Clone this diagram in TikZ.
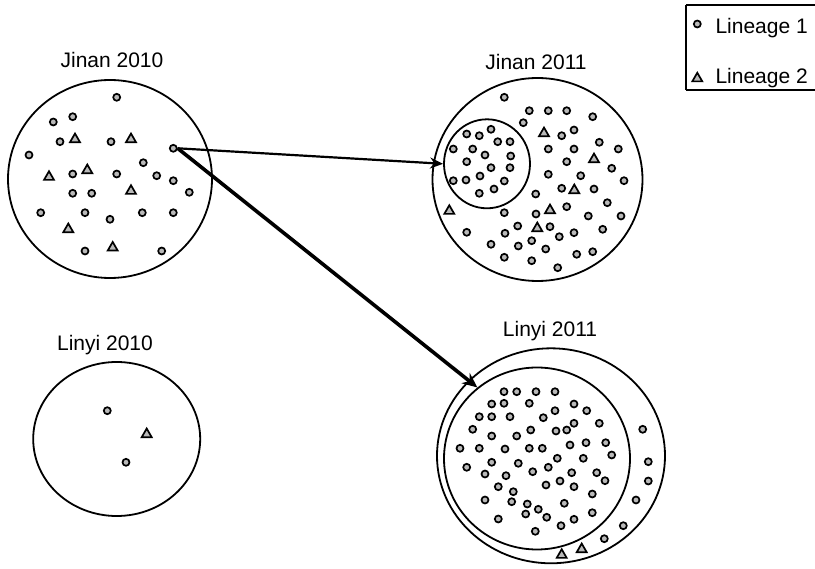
\documentclass[tikz,border=0pt]{standalone}
\usepackage{fontspec}
\setmainfont{Liberation Sans}
\usetikzlibrary{shapes.geometric,arrows.meta}
\tikzset{
  dot/.style={circle,draw=black,fill=gray!55,line width=1.7pt,inner sep=0pt,minimum size=7pt},
  tri/.style={regular polygon,regular polygon sides=3,draw=black,fill=gray!55,line width=1.7pt,inner sep=0pt,minimum size=11.5pt},
  pop/.style={ellipse,draw=black,line width=1.8pt,inner sep=0pt},
  ttl/.style={anchor=base,font=\fontsize{21}{25}\selectfont},
  leg/.style={anchor=base west,font=\fontsize{21}{25}\selectfont},
  arr/.style={-{Stealth[length=13pt,width=11pt]},line width=2.2pt},
  arrthick/.style={-{Stealth[length=15pt,width=13pt]},line width=3.6pt}
}
\begin{document}
\begin{tikzpicture}[x=1pt,y=-1pt]
\useasboundingbox (0,0) rectangle (815,569);
\fill[white] (0,0) rectangle (815,569);

% titles
\node[ttl] (t1) at (112,67.7) {Jinan 2010};
\node[ttl] (t2) at (536,70) {Jinan 2011};
\node[ttl] (t3) at (105,350.7) {Linyi 2010};
\node[ttl] (t4) at (550,337) {Linyi 2011};

% populations
\node[pop,minimum width=204pt,minimum height=198pt] (j10) at (110,179) {};
\node[pop,minimum width=210pt,minimum height=203pt] (j11) at (537.5,179.5) {};
\node[pop,minimum width=86pt,minimum height=89pt] (j11in) at (487,163.8) {};
\node[pop,minimum width=167pt,minimum height=154pt] (l10) at (116.7,439) {};
\node[pop,minimum width=228pt,minimum height=215pt] (l11) at (551,455.8) {};
\node[pop,minimum width=186pt,minimum height=182pt] (l11in) at (537,458.5) {};

% Jinan 2010
\node[dot] (src) at (173.3,148.3) {};
\foreach \x/\y [count=\i] in {116.7/97.3,72.7/116.7,53.3/122,60/141.7,111/141.7,29/155,143.3/162.7,72.7/174,116.7/174,156.7/175.7,173.3/180.7,72.7/193.3,91.7/193.3,189.3/192.3,40.7/212.7,85/212.7,110/219.3,142.3/212.7,173.3/212.7,85/251,161.7/251}
  \node[dot] (ja\i) at (\x,\y) {};
\foreach \x/\y [count=\i] in {75/138.3,131/138.3,87.3/169.3,49/176,131/190,68.3/228.3,112.7/246.7}
  \node[tri] (jat\i) at (\x,\y+1) {};

% Jinan 2011 inner
\foreach \x/\y [count=\i] in {466.7/134,479.3/135.7,491/129.3,497.7/141.7,510/141.7,453.3/149,472.7/149,485/155,510.7/156,466.7/161.7,491/167.7,510/167.7,480/176,453.3/180.7,466/180,504.3/181,479.3/193.3,494/189}
  \node[dot] (jb\i) at (\x,\y) {};
% Jinan 2011 outer
\foreach \x/\y [count=\i] in {504.3/97.3,529.3/110.7,548.3/110.7,566.7/110.7,592.7/116.7,523.3/122.7,561.7/135.7,574/130,599.3/142.3,548.3/149,574/149,618.3/149,566.7/161.7,611.7/168.3,548.3/174.3,580.7/175.7,624/180.7,561.7/188.3,594/189,535.7/194,607.3/202.7,566.7/206.7,504.3/212.7,536/214,588.3/216,621/216,466.7/232.3,505/233.3,517.7/226,550/226.7,559.3/236.7,574/232.7,602.7/229.3,531.7/240.7,491/244.3,518.3/246,545.7/249,504.3/257.3,531.7/260.7,576.7/254.3,592.7/251.7,557.7/267.7}
  \node[dot] (jc\i) at (\x,\y) {};
\foreach \x/\y [count=\i] in {544/132.3,594/158.3,574.3/189.3,550/209.3,449.3/210,537.3/227.3}
  \node[tri] (jct\i) at (\x,\y+1) {};

% Linyi 2010
\node[dot] (la1) at (107.3,410.7) {};
\node[dot] (la2) at (126,462.3) {};
\node[tri] (lat1) at (146.7,434.3) {};

% Linyi 2011
\foreach \x/\y [count=\i] in {504/391.7,516.7/391.7,536/391.7,555/391.7,491.7/404,504/403.3,529.3/403.3,574/404,586.7/410.7,555/410.7,479.3/416.7,491.7/416.7,510/416.7,543.3/417.7,574/423.3,599.3/423.3,472.7/429.3,491.7/436,516.7/436,530.7/430,556/431,566.7/430,642.7/429.3,460/448.3,479.3/448.3,505/449,529.3/448.3,542.3/448.3,570/445,586/442.7,605.7/442.7,611.7/455,466.7/467.3,491.7/462.3,518.3/463.3,557.3/458.3,583.3/458.3,648.3/461.7,485/474,506/475.7,532.7/471.7,548.3/467.3,571.7/472.7,596.7/472.7,605/480.7,648.3/481,498.3/486.7,513.3/491.7,546/485,560/481,574/486.7,592.3/494,485/500,511.7/501.7,527.3/504,538.3/509.3,564.3/503.3,636/500,498.3/519,525.7/514,546.7/517.3,561/525.7,574/519.3,592.3/512.7,623.3/525.7,604.3/538.7,535.3/531.3}
  \node[dot] (lb\i) at (\x,\y) {};
\node[tri] (lbt1) at (561.7,555) {};
\node[tri] (lbt2) at (581.7,549.3) {};

% arrows
\draw[arr] (src.east) -- (j11in.west);
\draw[arrthick] (src.east) -- (l11in.130);

% legend
\draw[line width=1.2pt] (686,5) -- (820,5);
\draw[line width=1.2pt] (686,5) -- (686,90);
\draw[line width=1.2pt] (686,90) -- (820,90);
\node[dot] (lg1) at (697.3,24) {};
\node[tri] (lg2) at (697.3,78.5) {};
\node[leg] (lg1t) at (712,33.3) {Lineage 1};
\node[leg] (lg2t) at (712,83.3) {Lineage 2};
\end{tikzpicture}
\end{document}
